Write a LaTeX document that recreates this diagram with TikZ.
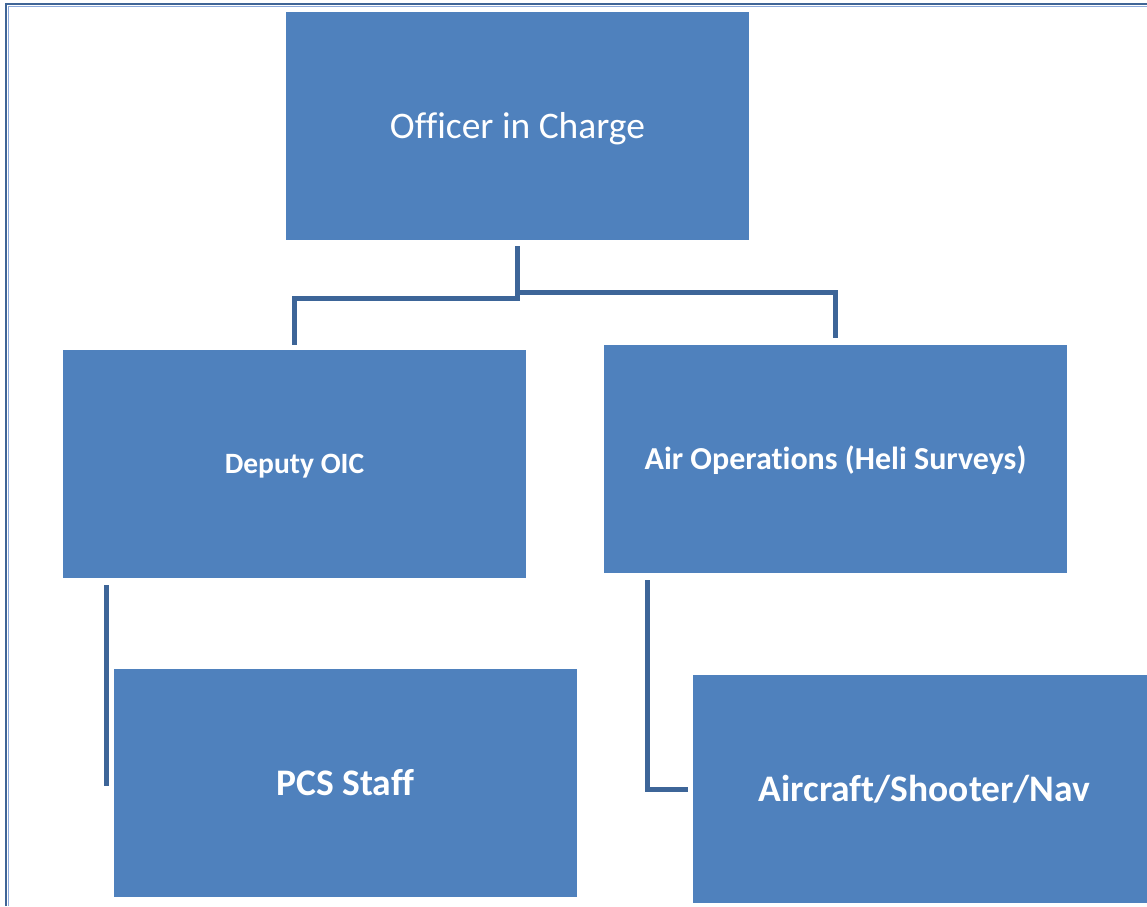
\documentclass[tikz,border=0pt]{standalone}
\usepackage{fontspec}
\setmainfont[Ligatures=NoCommon]{Carlito}
\usetikzlibrary{calc}
\definecolor{boxblue}{HTML}{4F81BD}
\definecolor{linkblue}{HTML}{3D6598}
\definecolor{frameblue}{HTML}{3F6597}
\definecolor{framelight}{HTML}{8EAADB}
\tikzset{
  unit/.style={fill=boxblue, text=white, minimum width=463pt, minimum height=228pt,
    inner sep=0pt, align=center, text depth=0pt},
  conn/.style={draw=linkblue, line width=5pt},
}
\begin{document}
\begin{tikzpicture}[x=1pt, y=-1pt]
  \useasboundingbox (0,0) rectangle (1147,906);
  \begin{scope}
    \clip (0,0) rectangle (1147,906);
    % page frame
    \draw[frameblue, line width=2.5pt] (6,906) -- (6,4) -- (1150,4);
    \draw[framelight, line width=1pt] (8.5,906) -- (8.5,6.5) -- (1150,6.5);

    % units
    \node[unit, text height=24pt, font=\fontsize{37.5}{44}\selectfont] (oic) at (517.5,126) {Officer in Charge};
    \node[unit, text height=19pt, font=\fontsize{29.5}{35}\selectfont\bfseries] (dep) at (294.5,464) {Deputy OIC};
    \node[unit, text height=20.5pt, font=\fontsize{32}{38}\selectfont\bfseries] (air) at (835.5,459) {Air Operations (Heli Surveys)};
    \node[unit, text height=24pt, font=\fontsize{37.5}{44}\selectfont\bfseries] (pcs) at (345.5,783) {PCS Staff};
    \node[unit, text height=24pt, font=\fontsize{37.5}{44}\selectfont\bfseries] (acr) at (924.5,789) {Aircraft/Shooter/Nav};

    % reporting lines
    \draw[conn] ([yshift=-6pt]oic.south) |- ([yshift=51pt]dep.north) -- ([yshift=5pt]dep.north);
    \draw[conn] ([yshift=-6pt]oic.south) -- ([yshift=-52pt]oic.south) -| ([yshift=7pt]air.north);
    \draw[conn] ([xshift=-7pt,yshift=-7pt]dep.south -| pcs.west) -- ([xshift=-7pt,yshift=-3pt]pcs.west);
    \draw[conn] ([xshift=44pt,yshift=-7pt]air.south west) |- ([xshift=-5pt]acr.west);
  \end{scope}
\end{tikzpicture}
\end{document}
